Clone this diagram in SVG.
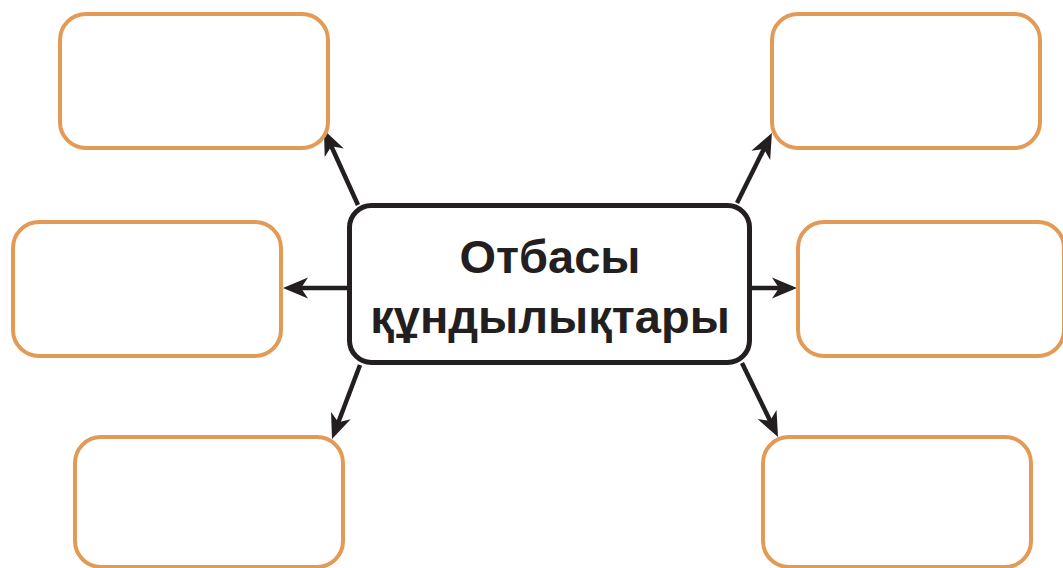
<svg xmlns="http://www.w3.org/2000/svg" width="1063" height="568" viewBox="0 0 1063 568">
<style>
.box{fill:#fff;stroke:#E29A55;stroke-width:4}
.center{fill:#fff;stroke:#231F20;stroke-width:5}
.conn{stroke:#231F20;stroke-width:4.5;fill:none}
.lbl{font-family:"Liberation Sans",Arial,sans-serif;font-weight:bold;font-size:47px;fill:#231F20;text-anchor:middle}
</style>
<defs>
<marker id="ah" viewBox="-16 -12 30 24" markerWidth="30" markerHeight="24" refX="0" refY="0" orient="auto" markerUnits="userSpaceOnUse">
<path d="M11,0 L-14,-10.5 L-7,0 L-14,10.5 Z" fill="#231F20"/>
</marker>
</defs>
<rect width="1063" height="568" fill="#fff"/>
<g id="connectors">
<line class="conn" x1="358" y1="205" x2="328.5" y2="140" marker-end="url(#ah)"/>
<line class="conn" x1="737" y1="203" x2="767" y2="142.8" marker-end="url(#ah)"/>
<line class="conn" x1="348" y1="288" x2="294" y2="288" marker-end="url(#ah)"/>
<line class="conn" x1="752" y1="288" x2="786" y2="288" marker-end="url(#ah)"/>
<line class="conn" x1="360" y1="365" x2="335.9" y2="428.7" marker-end="url(#ah)"/>
<line class="conn" x1="742" y1="363" x2="773.2" y2="427.1" marker-end="url(#ah)"/>
</g>
<g id="node-tl"><rect class="box" x="60" y="14" width="268" height="134" rx="26"/></g>
<g id="node-tr"><rect class="box" x="772" y="14" width="268" height="134" rx="26"/></g>
<g id="node-ml"><rect class="box" x="13" y="222" width="268" height="134" rx="26"/></g>
<g id="node-mr"><rect class="box" x="798" y="222" width="266" height="134" rx="26"/></g>
<g id="node-bl"><rect class="box" x="75" y="437" width="268" height="130" rx="26"/></g>
<g id="node-br"><rect class="box" x="763" y="437" width="268" height="130" rx="26"/></g>
<g id="node-center">
<rect class="center" x="349.5" y="205.5" width="400" height="157" rx="22"/>
<text class="lbl" x="550" y="273">Отбасы</text>
<text class="lbl" x="550" y="333">құндылықтары</text>
</g>
</svg>
